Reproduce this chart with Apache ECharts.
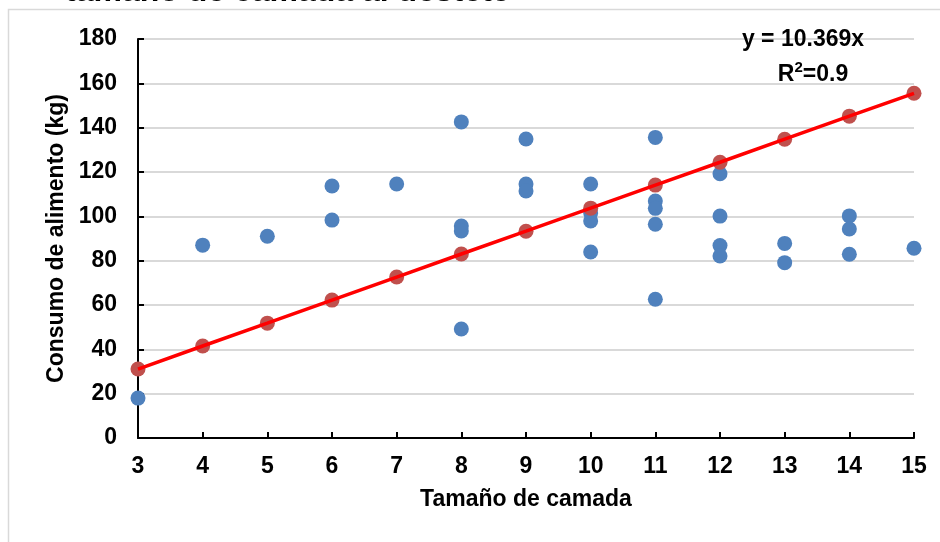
<!DOCTYPE html>
<html>
<head>
<meta charset="utf-8">
<script src="https://cdn.jsdelivr.net/npm/echarts@6/dist/echarts.min.js"></script>
<style>
html,body{margin:0;padding:0;background:#fff;}
#chart{width:940px;height:542px;}
</style>
</head>
<body>
<div id="chart"></div>
<script>
// Observed data: litter size vs feed intake (kg)
var litterSize = [3,4,5,6,6,7,8,8,8,8,9,9,9,10,10,10,10,11,11,11,11,11,12,12,12,12,13,13,14,14,14,15];
var feedIntake = [18,87,91,113.7,98.3,114.6,142.6,95.6,93.4,49.2,134.9,114.6,111.4,114.6,101.5,97.9,83.9,135.6,106.9,103.6,96.4,62.6,119.2,100.1,86.8,82.1,87.8,79.1,100.2,94.3,82.9,85.6];
// Fitted (trend) values
var trendX = [3,4,5,6,7,8,9,10,11,12,13,14,15];
var trendY = [31.1,41.5,51.8,62.2,72.6,83.0,93.3,103.7,114.1,124.4,134.8,145.2,155.5];
var xTicks = [3,4,5,6,7,8,9,10,11,12,13,14,15];
var yTicks = [0,20,40,60,80,100,120,140,160,180];
var chartTitle = 'tamaño de camada al destete';
var xTitle = 'Tamaño de camada';
var yTitle = 'Consumo de alimento (kg)';
var eqText = 'y = 10.369x';

var observed = litterSize.map(function(x,i){return [x, feedIntake[i]];});
var fitted = trendX.map(function(x,i){return [x, trendY[i]];});

var FONT = '"Liberation Sans", Arial, sans-serif';
var chart = echarts.init(document.getElementById('chart'));
chart.setOption({
  animation:false,
  backgroundColor:'#ffffff',
  graphic:[
    {type:'rect', shape:{x:8.5,y:9.5,width:1000,height:600}, style:{fill:'none', stroke:'#d9d9d9', lineWidth:1.5}, z:-10, silent:true},
    {type:'text', x:65, y:-8, z:100, style:{text:chartTitle, font:'bold 32px '+FONT, fill:'#000', verticalAlign:'middle'}},
    {type:'text', x:803, y:40, z:100, style:{text:eqText, font:'bold 23px '+FONT, fill:'#000', align:'center', verticalAlign:'middle'}},
    {type:'text', x:813, y:73, z:100, style:{
      text:'{b|R}{s|2}{b|=0.9}', align:'center', verticalAlign:'middle',
      rich:{
        b:{font:'bold 23px '+FONT, fill:'#000', color:'#000', verticalAlign:'bottom', lineHeight:26},
        s:{font:'bold 15px '+FONT, fill:'#000', color:'#000', verticalAlign:'top', lineHeight:26, padding:[0,0,8,0]}
      }
    }}
  ],
  grid:{left:138, right:26, top:39, bottom:104},
  xAxis:{
    type:'value', min:xTicks[0], max:xTicks[xTicks.length-1], interval:1,
    name:xTitle, nameLocation:'middle', nameGap:50,
    nameTextStyle:{fontFamily:FONT, fontWeight:'bold', fontSize:23, color:'#000'},
    axisLine:{show:true, lineStyle:{color:'#000', width:2}},
    axisTick:{show:true, inside:true, length:6, lineStyle:{color:'#000', width:2}},
    axisLabel:{fontFamily:FONT, fontWeight:'bold', fontSize:23, color:'#000', margin:17},
    splitLine:{show:false}
  },
  yAxis:{
    type:'value', min:yTicks[0], max:yTicks[yTicks.length-1], interval:20,
    name:yTitle, nameLocation:'middle', nameGap:70, nameRotate:90,
    nameTextStyle:{fontFamily:FONT, fontWeight:'bold', fontSize:23, color:'#000'},
    axisLine:{show:true, lineStyle:{color:'#000', width:2}},
    axisTick:{show:true, inside:true, length:6, lineStyle:{color:'#000', width:2}},
    axisLabel:{fontFamily:FONT, fontWeight:'bold', fontSize:23, color:'#000', margin:21},
    splitLine:{show:true, lineStyle:{color:'#d9d9d9', width:2}}
  },
  series:[
    {type:'scatter', data:observed, symbol:'circle', symbolSize:15, itemStyle:{color:'#4F81BD', opacity:1}, z:2},
    {type:'scatter', data:fitted, symbol:'circle', symbolSize:15, itemStyle:{color:'#C0504D', opacity:1}, z:3},
    {type:'line', data:fitted, showSymbol:false, symbol:'none', lineStyle:{color:'#FF0000', width:3.5}, z:4}
  ]
});
</script>
</body>
</html>
